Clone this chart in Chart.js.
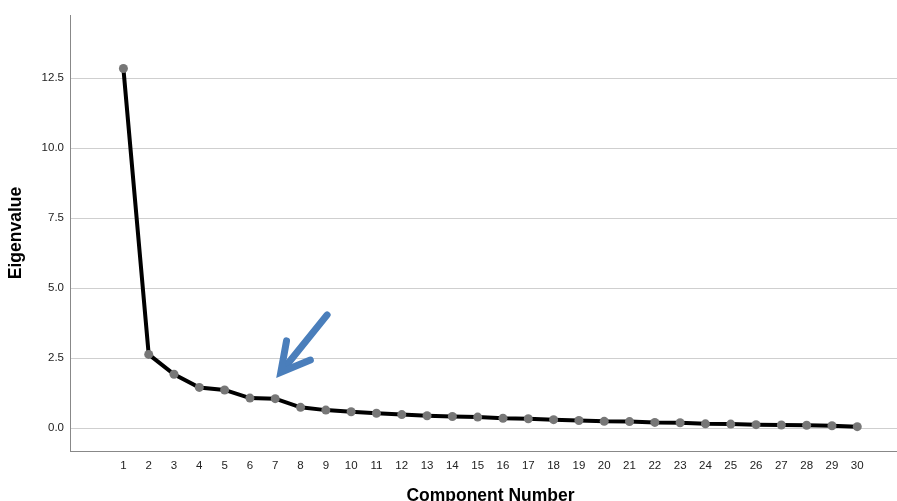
<!DOCTYPE html>
<html>
<head>
<meta charset="utf-8">
<script src="https://cdn.jsdelivr.net/npm/chart.js@4.4.0/dist/chart.umd.min.js"></script>
<style>
  html, body { margin: 0; padding: 0; background: #fff; }
  canvas { display: block; }
</style>
</head>
<body>
<canvas id="screePlot" width="897" height="501"></canvas>
<script>
// Componentes y valores propios
const components = [1, 2, 3, 4, 5, 6, 7, 8, 9, 10, 11, 12, 13, 14, 15,
                    16, 17, 18, 19, 20, 21, 22, 23, 24, 25, 26, 27, 28, 29, 30];
const eigenvalues = [12.85, 2.64, 1.93, 1.46, 1.37, 1.08, 1.06, 0.75, 0.65, 0.59,
                     0.54, 0.49, 0.45, 0.42, 0.40, 0.36, 0.34, 0.31, 0.28, 0.25,
                     0.24, 0.21, 0.20, 0.16, 0.15, 0.13, 0.12, 0.11, 0.09, 0.06];
const yTicks = [0, 2.5, 5, 7.5, 10, 12.5];
const xTitle = 'Component Number';

Chart.defaults.font.family = '"Liberation Sans", Arial, sans-serif';
Chart.defaults.color = '#222';

// Flecha azul que marca el codo
const arrowPlugin = {
    id: 'elbowArrow',
    afterDatasetsDraw(chart) {
        const { ctx, scales: { x, y } } = chart;
        const tail = { x: x.getPixelForValue(9.05), y: y.getPixelForValue(4.05) };
        const tip = { x: x.getPixelForValue(7.22), y: y.getPixelForValue(2.0) };
        const ang = Math.atan2(tail.y - tip.y, tail.x - tip.x);
        const len = 32, spread = Math.PI / 6.3;
        ctx.save();
        ctx.strokeStyle = '#4a7ebb';
        ctx.lineWidth = 7;
        ctx.lineJoin = 'miter';
        ctx.lineCap = 'round';
        ctx.beginPath();
        ctx.moveTo(tail.x, tail.y);
        ctx.lineTo(tip.x + Math.cos(ang) * 4, tip.y + Math.sin(ang) * 4);
        ctx.stroke();
        ctx.beginPath();
        ctx.moveTo(tip.x + Math.cos(ang - spread) * len, tip.y + Math.sin(ang - spread) * len);
        ctx.lineTo(tip.x, tip.y);
        ctx.lineTo(tip.x + Math.cos(ang + spread) * len, tip.y + Math.sin(ang + spread) * len);
        ctx.stroke();
        ctx.restore();
    }
};

// Titulo del eje X, un poco a la derecha del centro como en el original
const xTitlePlugin = {
    id: 'xTitle',
    afterDraw(chart) {
        const { ctx, chartArea } = chart;
        ctx.save();
        ctx.font = 'bold 17.5px "Liberation Sans", Arial, sans-serif';
        ctx.fillStyle = '#000';
        ctx.textAlign = 'center';
        ctx.textBaseline = 'alphabetic';
        ctx.fillText(xTitle, (chartArea.left + chartArea.right) / 2 + 7, chart.height - 0.5);
        ctx.restore();
    }
};

const ctx = document.getElementById('screePlot').getContext('2d');
new Chart(ctx, {
    type: 'line',
    data: {
        datasets: [{
            data: components.map((c, i) => ({ x: c, y: eigenvalues[i] })),
            borderColor: '#000',
            borderWidth: 4,
            pointRadius: 4.5,
            pointBackgroundColor: '#777',
            pointBorderWidth: 0,
            tension: 0
        }]
    },
    options: {
        responsive: false,
        animation: false,
        layout: { autoPadding: false, padding: { top: 15, right: 0, left: 0, bottom: 0 } },
        plugins: {
            legend: { display: false },
            tooltip: { enabled: false }
        },
        scales: {
            x: {
                type: 'linear',
                min: -1.11,
                max: 31.57,
                afterBuildTicks: s => { s.ticks = components.map(v => ({ value: v })); },
                afterFit: s => { s.height = 50; },
                ticks: { font: { size: 11.5 }, padding: 0, autoSkip: false, maxRotation: 0 },
                grid: { display: false },
                border: { display: true, color: '#888', width: 1 },
                title: { display: false }
            },
            y: {
                min: -0.81,
                max: 14.76,
                afterBuildTicks: s => { s.ticks = yTicks.map(v => ({ value: v })); },
                afterFit: s => { s.width = 70; },
                ticks: {
                    font: { size: 11.5 },
                    padding: 6,
                    callback: v => v.toFixed(1)
                },
                grid: { color: '#cfcfcf', lineWidth: 1, drawTicks: false },
                border: { display: true, color: '#888', width: 1 },
                title: {
                    display: true,
                    text: 'Eigenvalue',
                    font: { size: 17.5, weight: 'bold' },
                    padding: { top: 6, bottom: 0 },
                    color: '#000'
                }
            }
        }
    },
    plugins: [arrowPlugin, xTitlePlugin]
});
</script>
</body>
</html>
